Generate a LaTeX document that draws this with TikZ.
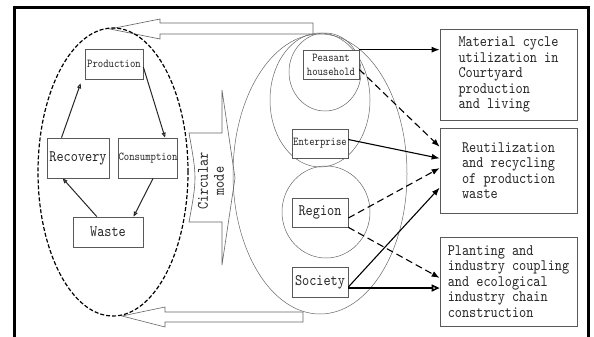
\documentclass[tikz,border=0pt]{standalone}
\usepackage{fontspec}
\usetikzlibrary{arrows.meta,calc}
\newfontfamily\figfont[FakeStretch=0.85]{lmmono10-regular.otf}

\begin{document}
\begin{tikzpicture}[x=1pt,y=-1pt,
  box/.style={draw=black!65,line width=0.7pt,fill=white,inner sep=0pt,text=black!85},
  big/.style={box,font=\figfont\fontsize{16}{15.5}\selectfont},
  small/.style={box,font=\figfont\fontsize{12}{14}\selectfont},
  ring/.style={draw=black!60,line width=0.5pt},
  hollow/.style={draw=black!60,line width=0.6pt,fill=white},
  cyc/.style={draw=black!85,line width=1pt,-{Triangle[open,length=5pt,width=4pt]}},
  link/.style={draw=black,line width=1.1pt,-{Latex[length=8pt,width=6pt]}},
  dlink/.style={link,dash pattern=on 7pt off 4pt}]
\useasboundingbox (0,0) rectangle (594,337);

% frame
\draw[line width=3pt] (14.5,337) -- (14.5,7.5) -- (588.5,7.5) -- (588.5,337);

% circular mode arrow
\draw[hollow] (189,133) -- (222,133) -- (222,90) -- (235,178) -- (222,265) -- (222,222)
  -- (189,222) .. controls (197,178) .. (189,133) -- cycle;
\node[rotate=90,align=center,text=black!85,font=\figfont\fontsize{16}{16}\selectfont] (mode) at (211,181) {Circular\\mode};

% levels
\draw[ring] (320,174) ellipse [x radius=87pt, y radius=140pt];
\draw[ring] (320,100) ellipse [x radius=50pt, y radius=67pt];
\draw[ring] (325,72) ellipse [x radius=36pt, y radius=39pt];
\draw[ring] (326,212) ellipse [x radius=44pt, y radius=46pt];

% feedback arrows
\draw[hollow] (110,29) -- (160,19) -- (160,23) -- (313,23) -- (313,34) -- (160,34) -- (160,39) -- cycle;
\draw[hollow] (122,316) -- (165,307) -- (165,312) -- (303,312) -- (303,322) -- (165,322) -- (165,327) -- cycle;

\draw[black,line width=1.2pt,dash pattern=on 4pt off 2pt] (113,172) ellipse [x radius=75pt, y radius=144pt];

% cycle
\node[small,minimum width=58pt,minimum height=30pt] (prod) at (114,64) {Production};
\node[big,minimum width=62pt,minimum height=40pt] (recov) at (78,158) {Recovery};
\node[small,minimum width=58pt,minimum height=40pt] (cons) at (148,158) {Consumption};
\node[big,minimum width=70pt,minimum height=30pt] (waste) at (108,232) {Waste};

\draw[cyc] (recov.129) -- ($(prod.south west)+(-4,4)$);
\draw[cyc] (prod.-6) -- (cons.50);
\draw[cyc] (cons.-76) -- (waste.31);
\draw[cyc] (waste.126) -- (recov.-127);

% subjects
\node[small,align=center,minimum width=56pt,minimum height=29pt] (peas) at (331,64.5) {Peasant\\household};
\node[small,minimum width=56pt,minimum height=29pt] (ent) at (320,143.5) {Enterprise};
\node[big,minimum width=56pt,minimum height=29pt] (reg) at (320,212.5) {Region};
\node[big,minimum width=56pt,minimum height=30pt] (soc) at (320,282) {Society};

% results
\node[big,align=left,minimum width=137pt,minimum height=91pt] (mat) at (508.5,74.5)
  {Material cycle\\utilization in\\Courtyard\\production\\and living};
\node[big,align=left,minimum width=137pt,minimum height=85pt] (reu) at (508.5,170.5)
  {Reutilization\\and recycling\\of production\\waste};
\node[big,align=left,minimum width=137pt,minimum height=89pt] (pla) at (508.5,281.5)
  {Planting and\\industry coupling\\and ecological\\industry chain\\construction};

\draw[link] (peas.north east) -- (mat.west |- peas.north east);
\draw[dlink] (peas.-10) -- (reu.161);
\draw[link] (ent.8) -- (reu.170);
\draw[dlink] (reg.-11) -- (reu.178);
\draw[dlink] (reg.south east) -- (pla.177);
\draw[link] (soc.-10) -- (reu.194);
\draw[link,line width=1.6pt,-{Triangle[open,length=8pt,width=7pt]}] (soc.-12) -- (pla.west |- soc.-12);

\end{tikzpicture}
\end{document}
